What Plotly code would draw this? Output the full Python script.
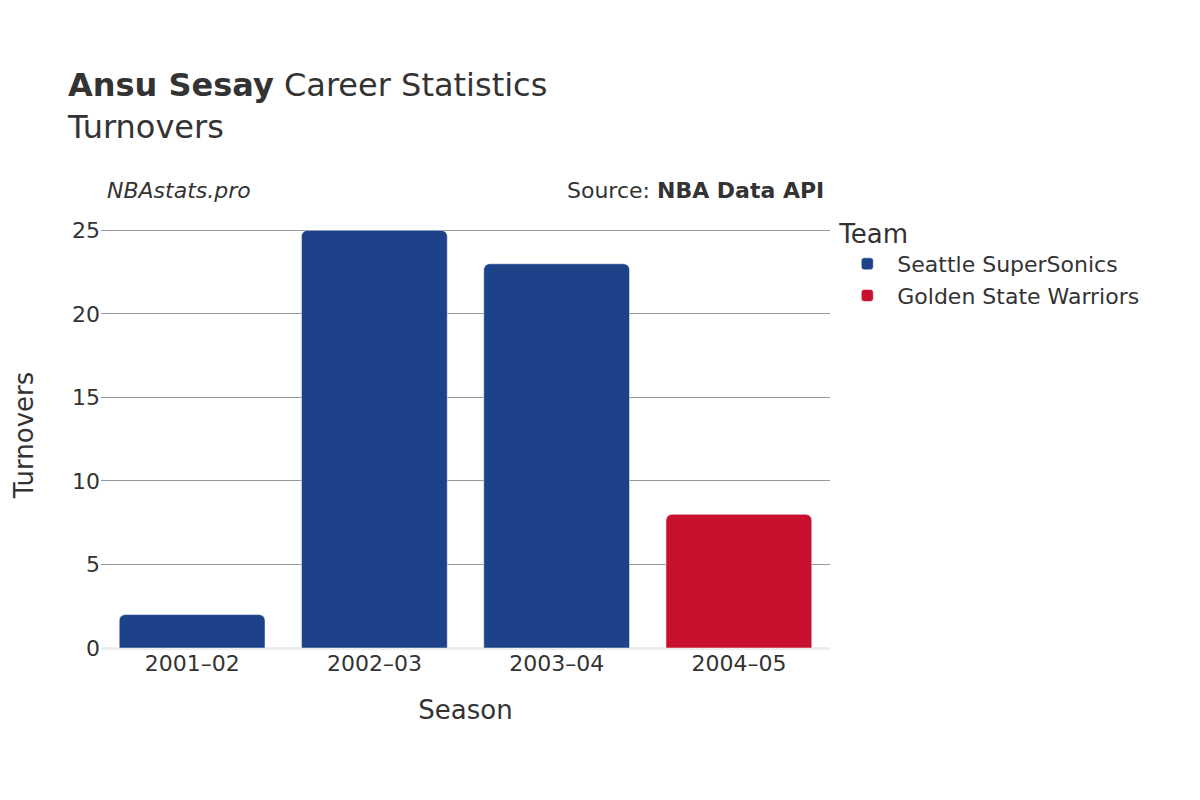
import plotly.graph_objects as go

seasons = ["2001–02", "2002–03", "2003–04", "2004–05"]
teams = ["Seattle SuperSonics", "Seattle SuperSonics", "Seattle SuperSonics", "Golden State Warriors"]
turnovers = [2, 25, 23, 8]
team_colors = {"Seattle SuperSonics": "#1D428A", "Golden State Warriors": "#C8102E"}

fig = go.Figure()
for team in ["Seattle SuperSonics", "Golden State Warriors"]:
    xs = [s for s, t in zip(seasons, teams) if t == team]
    ys = [v for v, t in zip(turnovers, teams) if t == team]
    fig.add_trace(go.Bar(x=xs, y=ys, name=team, marker_color=team_colors[team],
                         marker_cornerradius=6))

fig.update_layout(
    width=1200, height=800, template="plotly_white",
    font=dict(family="DejaVu Sans", size=22, color="#333"),
    title=dict(text="<b>Ansu Sesay</b> Career Statistics<br>Turnovers", x=0.05, y=0.89, font=dict(size=32)),
    margin=dict(l=93, r=378, t=214, b=160),
    bargap=0.2,
    barmode="overlay",
    legend=dict(title=dict(text="Team", font=dict(size=26)), x=1.01, y=1.03, font=dict(size=22),
                itemwidth=50, tracegroupgap=8),
    xaxis=dict(title=dict(text="Season", standoff=25), categoryorder="array", categoryarray=seasons),
    yaxis=dict(title=dict(text="Turnovers", standoff=30, font=dict(size=26)), range=[0, 25.5], dtick=5, gridcolor="#999",
               zeroline=True, zerolinecolor="#eee", zerolinewidth=3),
    annotations=[
        dict(text="<i>NBAstats.pro</i>", xref="paper", yref="paper", x=0.005, y=1.04, showarrow=False, xanchor="left", yanchor="bottom"),
        dict(text="Source: <b>NBA Data API</b>", xref="paper", yref="paper", x=0.995, y=1.04, showarrow=False, xanchor="right", yanchor="bottom"),
    ],
)
fig.update_xaxes(range=[-0.5, 3.5], title_font=dict(size=26))
fig.write_html("out.html")
